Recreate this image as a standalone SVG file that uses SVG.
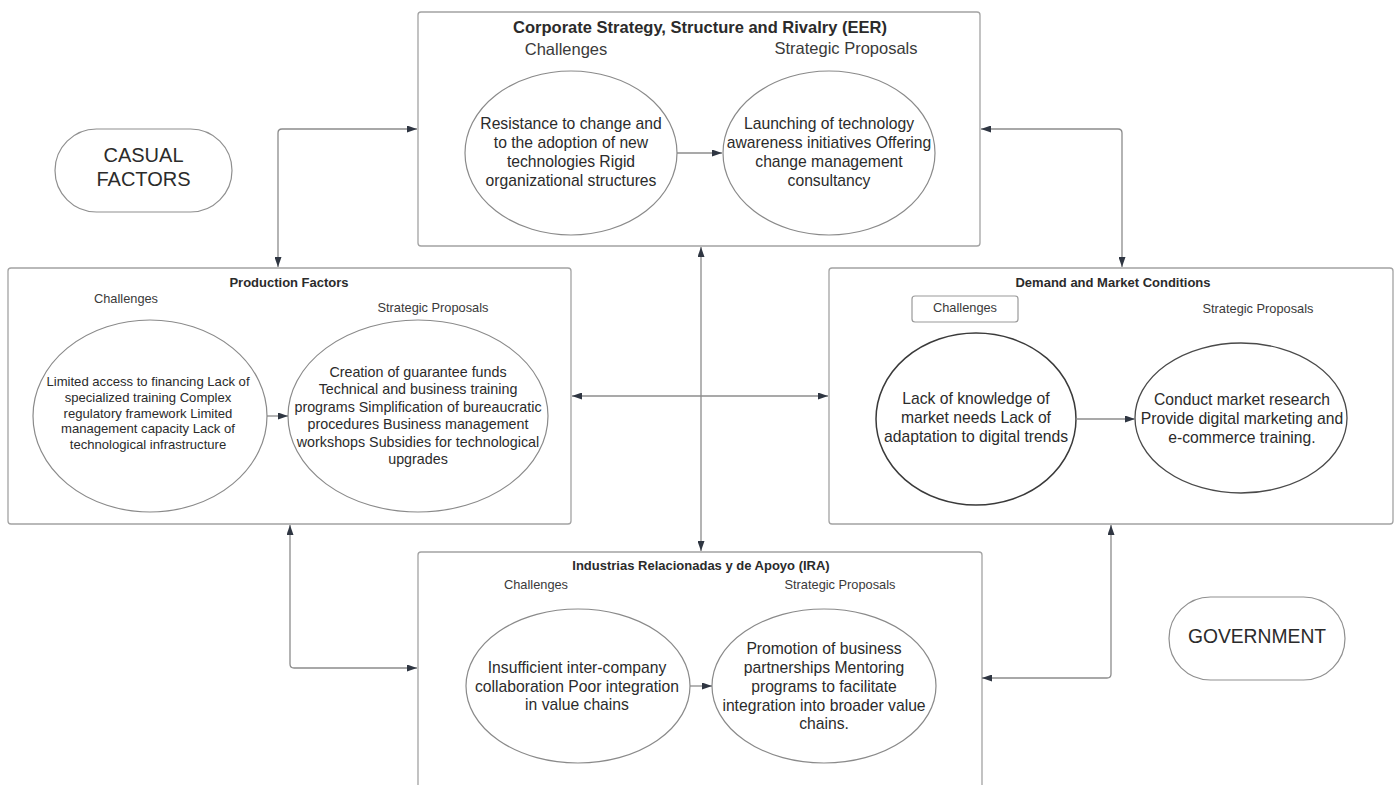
<svg xmlns="http://www.w3.org/2000/svg" width="1397" height="785" viewBox="0 0 1397 785">
<defs>
<marker id="ah" viewBox="0 0 10 7" refX="10" refY="3.5" markerWidth="10" markerHeight="7" markerUnits="userSpaceOnUse" orient="auto-start-reverse">
<path d="M0,0 L10,3.5 L0,7 z" fill="#2f3642"/>
</marker>
</defs>
<style>
text{font-family:"Liberation Sans",Arial,sans-serif;fill:#2b2b2b;text-anchor:middle;dominant-baseline:central}
.box{fill:#fff;stroke:#a3a3a3;stroke-width:1.3}
.circ{fill:#fff;stroke:#8a8a8a;stroke-width:1.2}
.circd{fill:#fff;stroke:#3a3a3a;stroke-width:1.5}
.pill{fill:#fff;stroke:#8f8f8f;stroke-width:1.2}
.conn{fill:none;stroke:#8c8c8c;stroke-width:1.3}
.t1{font-size:16.5px;font-weight:bold}
.t2{font-size:13px;font-weight:bold}
.h1{font-size:16.5px;fill:#3a3a3a}
.h2{font-size:12.8px;fill:#3a3a3a}
.b16{font-size:15.7px}
.b14{font-size:14.3px}
.b13{font-size:13.1px}
.big{font-size:20px}
</style>
<rect x="0" y="0" width="1397" height="785" fill="#fff"/>

<g id="casual-factors">
<rect class="pill" x="55" y="129" width="177" height="83" rx="41.5"/>
<text class="big" x="143.5" y="155">CASUAL</text>
<text class="big" x="143.5" y="179">FACTORS</text>
</g>

<g id="government">
<rect class="pill" x="1169" y="597" width="176" height="83" rx="41.5"/>
<text class="big" x="1257" y="636" style="font-size:19.3px">GOVERNMENT</text>
</g>

<g id="eer">
<rect class="box" x="418" y="12" width="562" height="234" rx="3"/>
<text class="t1" x="700" y="27">Corporate Strategy, Structure and Rivalry (EER)</text>
<text class="h1" x="566" y="49">Challenges</text>
<text class="h1" x="846" y="48">Strategic Proposals</text>
<ellipse class="circ" cx="571" cy="153" rx="106" ry="82"/>
<text class="b16" x="571" y="123.5">Resistance to change and</text>
<text class="b16" x="571" y="142.5">to the adoption of new</text>
<text class="b16" x="571" y="161.5">technologies Rigid</text>
<text class="b16" x="571" y="180.5">organizational structures</text>
<ellipse class="circ" cx="829" cy="153" rx="106" ry="82"/>
<text class="b16" x="829" y="123.5">Launching of technology</text>
<text class="b16" x="829" y="142.5">awareness initiatives Offering</text>
<text class="b16" x="829" y="161.5">change management</text>
<text class="b16" x="829" y="180.5">consultancy</text>
</g>

<g id="production-factors">
<rect class="box" x="8" y="268" width="563" height="256" rx="3"/>
<text class="t2" x="289" y="282">Production Factors</text>
<text class="h2" x="126" y="298">Challenges</text>
<text class="h2" x="433" y="307">Strategic Proposals</text>
<ellipse class="circ" cx="150" cy="416" rx="117" ry="96"/>
<text class="b13" x="148" y="381">Limited access to financing Lack of</text>
<text class="b13" x="148" y="397">specialized training Complex</text>
<text class="b13" x="148" y="413">regulatory framework Limited</text>
<text class="b13" x="148" y="428.5">management capacity Lack of</text>
<text class="b13" x="148" y="444">technological infrastructure</text>
<ellipse class="circ" cx="418" cy="416" rx="130" ry="96"/>
<text class="b14" x="418" y="372">Creation of guarantee funds</text>
<text class="b14" x="418" y="389">Technical and business training</text>
<text class="b14" x="418" y="406.5">programs Simplification of bureaucratic</text>
<text class="b14" x="418" y="424">procedures Business management</text>
<text class="b14" x="418" y="441.5">workshops Subsidies for technological</text>
<text class="b14" x="418" y="459">upgrades</text>
</g>

<g id="demand-market">
<rect class="box" x="829" y="268" width="564" height="256" rx="3"/>
<text class="t2" x="1113" y="282">Demand and Market Conditions</text>
<rect x="912" y="296" width="106" height="26" rx="3" fill="#fff" stroke="#9a9a9a" stroke-width="1.2"/>
<text class="h2" x="965" y="307">Challenges</text>
<text class="h2" x="1258" y="308">Strategic Proposals</text>
<ellipse class="circd" cx="976" cy="419" rx="100" ry="86"/>
<text class="b16" x="976" y="398">Lack of knowledge of</text>
<text class="b16" x="976" y="417">market needs Lack of</text>
<text class="b16" x="976" y="436">adaptation to digital trends</text>
<ellipse class="circd" cx="1241" cy="418" rx="106" ry="75" style="stroke:#4a4a4a;stroke-width:1.3"/>
<text class="b16" x="1242" y="399">Conduct market research</text>
<text class="b16" x="1242" y="418">Provide digital marketing and</text>
<text class="b16" x="1242" y="437">e-commerce training.</text>
</g>

<g id="ira">
<rect class="box" x="418" y="552" width="564" height="250" rx="3"/>
<text class="t2" x="701" y="565">Industrias Relacionadas y de Apoyo (IRA)</text>
<text class="h2" x="536" y="584">Challenges</text>
<text class="h2" x="840" y="584">Strategic Proposals</text>
<ellipse class="circ" cx="578" cy="686" rx="112" ry="77"/>
<text class="b16" x="577" y="667">Insufficient inter-company</text>
<text class="b16" x="577" y="686">collaboration Poor integration</text>
<text class="b16" x="577" y="704.5">in value chains</text>
<ellipse class="circ" cx="824" cy="686" rx="112" ry="77"/>
<text class="b16" x="824" y="648.5">Promotion of business</text>
<text class="b16" x="824" y="667.5">partnerships Mentoring</text>
<text class="b16" x="824" y="686">programs to facilitate</text>
<text class="b16" x="824" y="705">integration into broader value</text>
<text class="b16" x="824" y="723.5">chains.</text>
</g>

<g id="connectors">
<path class="conn" d="M278,267 L278,133 Q278,129 282,129 L417,129" marker-start="url(#ah)" marker-end="url(#ah)"/>
<path class="conn" d="M981,129 L1118,129 Q1122,129 1122,133 L1122,267" marker-start="url(#ah)" marker-end="url(#ah)"/>
<path class="conn" d="M290,525 L290,664 Q290,668 294,668 L417,668" marker-start="url(#ah)" marker-end="url(#ah)"/>
<path class="conn" d="M982,678 L1107,678 Q1111,678 1111,674 L1111,525" marker-start="url(#ah)" marker-end="url(#ah)"/>
<path class="conn" d="M701,247 L701,551" marker-start="url(#ah)" marker-end="url(#ah)"/>
<path class="conn" d="M572,396 L828,396" marker-start="url(#ah)" marker-end="url(#ah)"/>
<path class="conn" d="M677,153 L722,153" marker-end="url(#ah)"/>
<path class="conn" d="M267,416 L288,416" marker-end="url(#ah)"/>
<path class="conn" d="M1076,419 L1135,419" marker-end="url(#ah)"/>
<path class="conn" d="M690,686 L712,686" marker-end="url(#ah)"/>
</g>
</svg>
